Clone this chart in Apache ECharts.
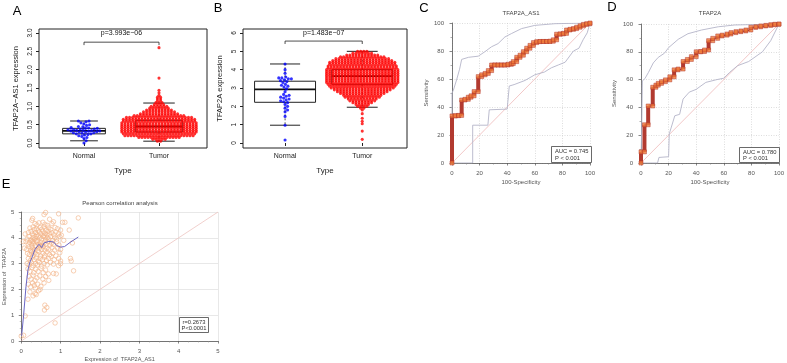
<!DOCTYPE html>
<html><head><meta charset="utf-8">
<script src="https://cdn.jsdelivr.net/npm/echarts@6/dist/echarts.min.js"></script>
<style>html,body{margin:0;padding:0;background:#fff}#c{width:787px;height:363px}</style>
</head><body><div id="c"></div>
<script>
// ---------------- DATA ----------------
const groupCats = ['Normal', 'Tumor'];

// Panel A: TFAP2A-AS1 expression
const aTicks = [0, 0.5, 1, 1.5, 2, 2.5, 3];
const aNormal = [0.0, 0.06, 0.12, 0.15, 0.18, 0.2, 0.22, 0.23, 0.25, 0.25, 0.27, 0.28, 0.28, 0.3, 0.3, 0.31, 0.32, 0.33, 0.33, 0.34, 0.35, 0.35, 0.36, 0.37, 0.38, 0.38, 0.4, 0.4, 0.41, 0.42, 0.44, 0.45, 0.48, 0.5, 0.52, 0.55, 0.58, 0.6, 0.6];
const aTumorLevels = [0.05, 0.1, 0.15, 0.2, 0.25, 0.3, 0.35, 0.4, 0.45, 0.5, 0.55, 0.6, 0.65, 0.7, 0.75, 0.8, 0.85, 0.9, 0.95, 1.0, 1.05, 1.1, 1.15, 1.2, 1.25, 1.3, 1.37, 1.44, 1.77, 2.6];
const aTumorCounts = [2, 5, 14, 23, 24, 25, 25, 25, 25, 25, 25, 24, 24, 22, 17, 13, 11, 9, 7, 6, 4, 3, 2, 2, 2, 1, 1, 1, 1, 1];
const aBoxNormal = [0.06, 0.25, 0.33, 0.40, 0.60];   // low whisker, Q1, median, Q3, high whisker
const aBoxTumor = [0.05, 0.30, 0.45, 0.62, 1.09];
const aBracket = [2.75, 2.67, 3.0];                  // bracket level, tick end, text level
const aPText = 'p=3.993e\u221206';

// Panel B: TFAP2A expression
const bTicks = [0, 1, 2, 3, 4, 5, 6];
const bNormal = [0.16, 0.97, 1.45, 1.7, 1.8, 1.9, 2.0, 2.1, 2.2, 2.25, 2.3, 2.35, 2.4, 2.45, 2.5, 2.55, 2.6, 2.65, 2.8, 2.95, 3.05, 3.1, 3.15, 3.2, 3.3, 3.35, 3.4, 3.45, 3.5, 3.5, 3.55, 3.55, 3.6, 3.8, 4.0, 4.31];
const bTumorLevels = [0.2, 0.65, 1.05, 1.18, 1.35, 1.6, 1.8, 1.9, 2.0, 2.1, 2.2, 2.3, 2.4, 2.5, 2.6, 2.7, 2.8, 2.9, 3.0, 3.1, 3.2, 3.3, 3.4, 3.5, 3.6, 3.7, 3.8, 3.9, 4.0, 4.1, 4.2, 4.3, 4.4, 4.5, 4.6, 4.7, 4.8, 4.9, 5.0];
const bTumorCounts = [1, 1, 1, 1, 1, 1, 1, 2, 4, 5, 7, 9, 10, 12, 13, 15, 17, 19, 21, 22, 23, 24, 24, 24, 24, 24, 24, 24, 24, 23, 23, 22, 22, 20, 18, 15, 11, 7, 4];
const bBoxNormal = [0.97, 2.22, 2.93, 3.37, 4.31];
const bBoxTumor = [1.95, 3.2, 3.65, 4.0, 5.0];
const bBracket = [5.56, 5.4, 6.0];
const bPText = 'p=1.483e\u221207';

// Panel C: ROC TFAP2A_AS1
const cFpr = [0, 2.4, 4.8, 7, 9.4, 11.8, 13.8, 16, 19, 21.5, 24, 26.3, 28.7, 31, 33.4, 35.8, 38.2, 40.6, 43, 44.4, 46.9, 49.3, 51.7, 54.1, 56.5, 59, 61.4, 63.8, 66.2, 68.6, 71, 73.4, 75.8, 78.3, 80.7, 83, 85.5, 88, 90.3, 92.8, 95.2, 97.6, 100];
const cTpr = [33.6, 33.8, 34, 45, 45.5, 47, 48, 51, 61.7, 63, 64, 66, 70, 70, 70, 70, 70, 70.5, 71, 72.4, 75.5, 77, 79.5, 82, 84, 86, 86.7, 86.8, 86.8, 86.8, 87, 88, 92, 92.2, 92.6, 95, 95.5, 96, 97, 98, 99, 99.5, 100];
const cUpper = [[0, 0], [0, 50], [1, 52], [3.5, 60], [5.5, 67], [7, 74], [12, 75.5], [19, 76.3], [23.7, 79.4], [28.6, 83], [33.4, 85.3], [38.3, 90], [43, 92.4], [50.4, 96], [60, 98.3], [74.6, 99.5], [100, 100]];
const cLower = [[0, 0], [15, 0], [15, 27], [26, 27], [27, 38], [40, 38.5], [41.5, 55], [45, 56], [53, 59], [60, 63], [67, 65], [72, 68], [77, 70], [82, 72], [88, 80], [92, 82], [95, 88], [98, 93], [100, 100]];
const cTitle = 'TFAP2A_AS1';
const cAuc = ['AUC = 0.745', 'P < 0.001'];

// Panel D: ROC TFAP2A
const dFpr = [0, 2.5, 5.2, 8.5, 10.8, 12.5, 14.9, 17.7, 20.9, 24, 26.9, 30.5, 33.6, 36.5, 40, 43.2, 46, 49, 52, 55.6, 58.8, 62.4, 65.2, 68.8, 72.4, 76, 79.6, 83.2, 86.8, 90.4, 94, 97, 100];
const dTpr = [8, 27.5, 41, 54.5, 56, 57.3, 58.5, 59.8, 62, 67, 67.6, 73, 74.5, 76.5, 80, 80.2, 81.3, 88, 89.7, 91.4, 92, 92.8, 93.8, 94.5, 95, 95.7, 97.6, 98, 98.6, 99, 99.5, 99.8, 100];
const dUpper = [[0, 0], [0.6, 30], [1, 59], [3, 61], [5.3, 65], [8.9, 72], [12.5, 76], [17, 79], [20, 83], [27, 89], [34, 93], [44, 95.7], [56, 98], [68, 99.3], [100, 100]];
const dLower = [[0, 0], [12, 0], [13, 4], [20, 4.5], [20.5, 21], [24.5, 34], [28, 35], [30.5, 46], [35, 51], [40, 53], [47, 58], [55, 60], [60, 61], [64, 65], [70, 70], [78, 73], [88, 80], [94, 88], [100, 100]];
const dTitle = 'TFAP2A';
const dAuc = ['AUC = 0.780', 'P < 0.001'];

// Panel E: Pearson correlation
const eTitle = 'Pearson correlation analysis';
const ePoints = [
 [0.62,4.98],[0.95,4.93],[0.58,4.9],
 [0.29,4.75],[0.27,4.68],[1.45,4.77],[0.72,4.72],
 [1.11,4.6],[1.05,4.6],[0.35,4.55],[0.45,4.58],[0.55,4.6],[0.6,4.52],[0.78,4.55],[0.82,4.62],[0.4,4.5],[0.66,4.48],
 [0.22,4.38],[0.3,4.42],[0.38,4.35],[0.48,4.4],[0.52,4.33],[0.58,4.42],[0.63,4.3],[0.7,4.38],[0.75,4.32],[0.86,4.4],[0.92,4.35],[1.0,4.3],[1.22,4.3],[0.43,4.3],[0.33,4.32],
 [0.18,4.2],[0.25,4.25],[0.28,4.15],[0.36,4.2],[0.4,4.12],[0.46,4.22],[0.5,4.15],[0.55,4.25],[0.6,4.18],[0.65,4.12],[0.68,4.25],[0.72,4.15],[0.78,4.2],[0.83,4.12],[0.88,4.22],[0.95,4.15],[1.02,4.1],[0.1,4.15],[0.32,4.1],[0.58,4.1],
 [0.15,3.95],[0.2,4.05],[0.24,3.92],[0.3,4.0],[0.34,3.95],[0.38,4.05],[0.42,3.9],[0.47,4.0],[0.52,3.95],[0.56,4.05],[0.62,3.92],[0.66,4.0],[0.7,3.95],[0.75,4.05],[0.8,3.9],[0.85,4.0],[0.9,3.95],[0.98,4.05],[1.08,3.9],[0.27,3.9],[0.44,4.08],[0.6,4.02],
 [0.05,3.85],[0.12,3.85],[0.18,3.75],[0.22,3.82],[0.26,3.72],[0.31,3.8],[0.35,3.7],[0.4,3.85],[0.45,3.75],[0.5,3.82],[0.54,3.72],[0.58,3.8],[0.63,3.75],[0.68,3.85],[0.73,3.72],[0.77,3.8],[0.82,3.75],[0.9,3.85],[0.96,3.72],[1.3,3.8],[0.37,3.88],[0.47,3.7],[0.29,3.86],
 [0.08,3.6],[0.14,3.55],[0.2,3.65],[0.24,3.52],[0.28,3.62],[0.33,3.55],[0.38,3.65],[0.42,3.5],[0.46,3.6],[0.52,3.55],[0.56,3.65],[0.6,3.52],[0.65,3.6],[0.7,3.55],[0.78,3.62],[0.85,3.52],[0.92,3.6],[1.0,3.55],[0.5,3.68],[0.3,3.5],
 [0.16,3.4],[0.21,3.35],[0.26,3.45],[0.3,3.32],[0.35,3.42],[0.4,3.35],[0.45,3.45],[0.49,3.3],[0.55,3.4],[0.6,3.32],[0.66,3.45],[0.72,3.35],[0.8,3.4],[0.88,3.3],[0.98,3.42],
 [0.18,3.2],[0.23,3.12],[0.28,3.25],[0.33,3.15],[0.38,3.22],[0.43,3.1],[0.48,3.2],[0.54,3.15],[0.59,3.25],[0.64,3.12],[0.7,3.2],[0.76,3.28],[0.84,3.15],[0.95,3.2],[1.0,3.1],[1.25,3.2],[1.27,3.1],
 [0.15,3.0],[0.2,2.95],[0.25,3.05],[0.3,2.92],[0.36,3.0],[0.41,2.95],[0.46,3.05],[0.52,2.9],[0.58,3.0],[0.66,2.95],[0.74,3.05],[0.82,2.98],[1.0,3.0],[0.95,2.92],
 [0.17,2.8],[0.22,2.7],[0.27,2.85],[0.32,2.65],[0.37,2.78],[0.43,2.7],[0.5,2.82],[0.56,2.65],[0.62,2.75],[0.69,2.6],[0.89,2.6],[0.82,2.62],[1.33,2.72],
 [0.2,2.5],[0.25,2.4],[0.3,2.55],[0.35,2.35],[0.4,2.45],[0.47,2.52],[0.55,2.4],[0.62,2.5],[0.7,2.35],
 [0.18,2.2],[0.24,2.1],[0.29,2.25],[0.36,2.05],[0.42,2.2],[0.5,2.12],[0.58,2.25],[0.48,2.0],[0.33,2.15],
 [0.22,1.9],[0.35,1.84],[0.38,1.8],[0.44,1.95],[0.3,1.75],
 [0.17,1.62],[0.6,1.39],[0.59,1.2],[0.65,1.3],[0.1,0.97],[0.86,0.7],[0.06,0.22],[0.0,0.19]
];
const eFit = [[0.01,0.2],[0.06,1.0],[0.12,2.1],[0.17,2.75],[0.22,3.05],[0.27,3.23],[0.35,3.55],[0.45,3.75],[0.52,3.62],[0.58,3.8],[0.7,3.86],[0.82,3.84],[0.9,3.7],[1.0,3.64],[1.1,3.66],[1.24,3.82],[1.45,4.03]];
const eDiag = [[0, 0], [5, 5]];
const eStats = ['r=0.2673', 'P<0.0001'];
const eXName = 'Expression of  TFAP2A_AS1';
const eYName = 'Expression of  TFAP2A';

// ---------------- LAYOUT / HELPERS ----------------
const FONT = '"Liberation Sans", Arial, Helvetica, sans-serif';
const gA = {left: 39, top: 29, width: 168, height: 119};
const gB = {left: 243, top: 29, width: 164, height: 119};
const gC = {left: 452, top: 23, width: 138, height: 140};
const gD = {left: 641, top: 24, width: 139, height: 139};
const gE = {left: 21, top: 212, width: 197, height: 131};
const axA = {xmin: 0.4, xmax: 2.64, ymin: -0.136, ymax: 3.109};
const axB = {xmin: 0.455, xmax: 2.58, ymin: -0.273, ymax: 6.218};
const DOT = 3.1;

function swarm(values, d, pxPerY) {
  const idx = values.map((v, i) => i).sort((a, b) => values[a] - values[b]);
  const placed = [], out = new Array(values.length);
  for (const i of idx) {
    const y = values[i] * pxPerY;
    const near = placed.filter(p => Math.abs(p.y - y) < d);
    const cands = [0];
    near.forEach(p => { const dx = Math.sqrt(d * d - (p.y - y) * (p.y - y)); cands.push(p.x + dx, p.x - dx); });
    cands.sort((a, b) => Math.abs(a) - Math.abs(b));
    let x = 0;
    for (const c of cands) {
      if (near.every(p => (p.x - c) * (p.x - c) + (p.y - y) * (p.y - y) >= d * d - 1e-6)) { x = c; break; }
    }
    placed.push({x, y}); out[i] = x;
  }
  return out;
}
function swarmData(values, center, g, ax) {
  const xpx = g.width / (ax.xmax - ax.xmin), ypx = g.height / (ax.ymax - ax.ymin);
  const off = swarm(values, DOT, ypx);
  return values.map((v, i) => [center + off[i] / xpx, v]);
}
function rowData(levels, counts, center, g, ax) {
  const xpx = g.width / (ax.xmax - ax.xmin);
  const pts = [];
  levels.forEach((v, k) => {
    const n = counts[k];
    for (let j = 0; j < n; j++) pts.push([center + (j - (n - 1) / 2) * DOT / xpx, v]);
  });
  return pts;
}
function boxSeries(idx, center, stats, bw, cw) {
  return {
    type: 'custom', xAxisIndex: idx, yAxisIndex: idx, z: 1, silent: true,
    data: [[center].concat(stats)],
    renderItem: function (params, api) {
      const c = api.value(0), lo = api.value(1), q1 = api.value(2), md = api.value(3), q3 = api.value(4), hi = api.value(5);
      const P = (x, y) => api.coord([x, y]);
      const tl = P(c - bw / 2, q3), br = P(c + bw / 2, q1);
      const mL = P(c - bw / 2, md), mR = P(c + bw / 2, md);
      const cx = P(c, 0)[0];
      const hiP = P(c - cw / 2, hi), hiR = P(c + cw / 2, hi);
      const loP = P(c - cw / 2, lo), loR = P(c + cw / 2, lo);
      const st = {stroke: '#222', lineWidth: 1, fill: null};
      return {type: 'group', children: [
        {type: 'rect', shape: {x: tl[0], y: tl[1], width: br[0] - tl[0], height: br[1] - tl[1]}, style: {stroke: '#222', lineWidth: 1, fill: 'none'}},
        {type: 'line', shape: {x1: mL[0], y1: mL[1], x2: mR[0], y2: mR[1]}, style: {stroke: '#111', lineWidth: 1.8}},
        {type: 'line', shape: {x1: cx, y1: tl[1], x2: cx, y2: hiP[1]}, style: {stroke: '#222', lineWidth: 0.8, lineDash: [2, 2]}},
        {type: 'line', shape: {x1: cx, y1: br[1], x2: cx, y2: loP[1]}, style: {stroke: '#222', lineWidth: 0.8, lineDash: [2, 2]}},
        {type: 'line', shape: {x1: hiP[0], y1: hiP[1], x2: hiR[0], y2: hiR[1]}, style: st},
        {type: 'line', shape: {x1: loP[0], y1: loP[1], x2: loR[0], y2: loR[1]}, style: st}
      ]};
    }
  };
}
function bracketSeries(idx, br, text) {
  return {
    type: 'custom', xAxisIndex: idx, yAxisIndex: idx, z: 3, silent: true,
    data: [[1, 2, br[0], br[1], br[2]]],
    renderItem: function (params, api) {
      const a = api.coord([api.value(0), api.value(2)]), b = api.coord([api.value(1), api.value(2)]);
      const a2 = api.coord([api.value(0), api.value(3)]), b2 = api.coord([api.value(1), api.value(3)]);
      const t = api.coord([(api.value(0) + api.value(1)) / 2, api.value(4)]);
      const st = {stroke: '#222', lineWidth: 0.8};
      return {type: 'group', children: [
        {type: 'line', shape: {x1: a[0], y1: a[1], x2: b[0], y2: b[1]}, style: st},
        {type: 'line', shape: {x1: a[0], y1: a[1], x2: a2[0], y2: a2[1]}, style: st},
        {type: 'line', shape: {x1: b[0], y1: b[1], x2: b2[0], y2: b2[1]}, style: st},
        {type: 'text', x: t[0], y: t[1], style: {text: text, fontSize: 7, fontFamily: FONT, fill: '#111', align: 'center', verticalAlign: 'middle'}}
      ]};
    }
  };
}
function rocSeries(idx, fpr, tpr, upper, lower) {
  const path = [], corners = [], bars = [];
  let prev = 0;
  fpr.forEach((x, k) => {
    path.push([x, prev]); path.push([x, tpr[k]]);
    bars.push([x, prev, tpr[k]]);
    corners.push([x, prev]); corners.push([x, tpr[k]]);
    prev = tpr[k];
  });
  return [
    {type: 'line', xAxisIndex: idx, yAxisIndex: idx, data: [[0, 0], [100, 100]], showSymbol: false, silent: true, z: 1,
     lineStyle: {color: '#efb9b9', width: 0.8}},
    {type: 'line', xAxisIndex: idx, yAxisIndex: idx, data: upper, showSymbol: false, silent: true, z: 1,
     lineStyle: {color: '#b4b4c8', width: 0.9}},
    {type: 'line', xAxisIndex: idx, yAxisIndex: idx, data: lower, showSymbol: false, silent: true, z: 1,
     lineStyle: {color: '#b4b4c8', width: 0.9}},
    {type: 'line', xAxisIndex: idx, yAxisIndex: idx, data: path, showSymbol: false, silent: true, z: 2,
     lineStyle: {color: '#a8322c', width: 1}},
    {type: 'custom', xAxisIndex: idx, yAxisIndex: idx, data: bars, silent: true, z: 3,
     renderItem: function (params, api) {
       const a = api.coord([api.value(0), api.value(1)]), b = api.coord([api.value(0), api.value(2)]);
       return {type: 'rect', shape: {x: a[0] - 2, y: b[1], width: 4, height: a[1] - b[1]}, style: {fill: '#b23a30'}};
     }},
    {type: 'scatter', xAxisIndex: idx, yAxisIndex: idx, data: corners, symbol: 'rect', symbolSize: 4, silent: true, z: 4,
     itemStyle: {color: '#ef7a3a', borderColor: '#b0342c', borderWidth: 0.6}}
  ];
}
function abAxes(idx, ax, ticks, yName, dec) {
  return {
    x: {type: 'value', gridIndex: idx, min: ax.xmin, max: ax.xmax,
        axisLine: {show: false}, splitLine: {show: false},
        axisTick: {show: true, customValues: [1, 2], length: 3, lineStyle: {color: '#222'}},
        axisLabel: {customValues: [1, 2], formatter: v => groupCats[Math.round(v) - 1], fontSize: 7, color: '#222', margin: 5, fontFamily: FONT},
        name: 'Type', nameLocation: 'middle', nameGap: 19, nameTextStyle: {fontSize: 8, color: '#222', fontFamily: FONT}},
    y: {type: 'value', gridIndex: idx, min: ax.ymin, max: ax.ymax,
        axisLine: {show: false}, splitLine: {show: false},
        axisTick: {show: true, customValues: ticks, length: 3, lineStyle: {color: '#222'}},
        axisLabel: {customValues: ticks, formatter: v => v.toFixed(dec), rotate: 90, fontSize: 6.5, color: '#222', margin: 5, fontFamily: FONT},
        name: yName, nameLocation: 'middle', nameGap: 19, nameTextStyle: {fontSize: 7.5, color: '#222', fontFamily: FONT}}
  };
}
function rocAxes(idx, nameGapY) {
  const common = {type: 'value', gridIndex: idx, min: 0, max: 100, interval: 20,
    axisLine: {show: true, lineStyle: {color: '#555', width: 0.8}},
    axisTick: {show: true, length: 2.5, lineStyle: {color: '#555', width: 0.7}},
    minorTick: {show: true, splitNumber: 2, length: 1.5, lineStyle: {color: '#777', width: 0.6}},
    axisLabel: {fontSize: 6, color: '#555', margin: 3, fontFamily: FONT},
    splitLine: {show: true, lineStyle: {color: '#cfcfcf', width: 0.7, type: [1, 1.5]}}};
  return {
    x: Object.assign({}, common, {offset: 4, name: '100-Specificity', nameLocation: 'middle', nameGap: 12, nameTextStyle: {fontSize: 6, color: '#555', fontFamily: FONT}}),
    y: Object.assign({}, common, {offset: 5, name: 'Sensitivity', nameLocation: 'middle', nameGap: nameGapY, nameTextStyle: {fontSize: 6, color: '#555', fontFamily: FONT}})
  };
}
function T(x, y, text, size, extra) {
  return {type: 'text', x: x, y: y, silent: true, z: 100,
    style: Object.assign({text: text, fontSize: size, fontFamily: FONT, fill: '#000', align: 'center', verticalAlign: 'middle'}, extra || {})};
}
function R(x, y, w, h) {
  return {type: 'rect', silent: true, z: 99, shape: {x: x, y: y, width: w, height: h}, style: {fill: '#fff', stroke: '#444', lineWidth: 0.8}};
}

// ---------------- BUILD ----------------
const A = abAxes(0, axA, aTicks, 'TFAP2A\u2212AS1 expression', 1);
const B = abAxes(1, axB, bTicks, 'TFAP2A expression', 0);
const C = rocAxes(2, 18);
const D = rocAxes(3, 19);
const eCommon = {type: 'value', min: 0, max: 5, interval: 1,
  axisLine: {show: true, lineStyle: {color: '#555', width: 0.8}},
  axisTick: {show: true, length: 2.5, lineStyle: {color: '#555', width: 0.7}},
  minorTick: {show: true, splitNumber: 4, length: 1.5, lineStyle: {color: '#888', width: 0.5}},
  axisLabel: {fontSize: 6, color: '#555', margin: 3, fontFamily: FONT},
  splitLine: {show: true, lineStyle: {color: '#dedede', width: 0.7}}};
const Ex = Object.assign({}, eCommon, {gridIndex: 4, offset: 4, name: eXName, nameLocation: 'middle', nameGap: 11, nameTextStyle: {fontSize: 5.5, color: '#555', fontFamily: FONT}});
const Ey = Object.assign({}, eCommon, {gridIndex: 4, offset: 4, name: eYName, nameLocation: 'middle', nameGap: 9, nameTextStyle: {fontSize: 5.5, color: '#555', fontFamily: FONT}});

const option = {
  animation: false,
  backgroundColor: '#fff',
  grid: [
    Object.assign({show: true, borderColor: '#222', borderWidth: 1, backgroundColor: 'transparent'}, gA),
    Object.assign({show: true, borderColor: '#222', borderWidth: 1, backgroundColor: 'transparent'}, gB),
    gC, gD, gE
  ],
  xAxis: [A.x, B.x, C.x, D.x, Ex],
  yAxis: [A.y, B.y, C.y, D.y, Ey],
  series: [
    boxSeries(0, 1, aBoxNormal, 0.57, 0.37),
    boxSeries(0, 2, aBoxTumor, 0.62, 0.42),
    {type: 'scatter', xAxisIndex: 0, yAxisIndex: 0, data: swarmData(aNormal, 1, gA, axA), symbolSize: DOT, itemStyle: {color: '#0000ff'}, silent: true, z: 2},
    {type: 'scatter', xAxisIndex: 0, yAxisIndex: 0, data: rowData(aTumorLevels, aTumorCounts, 2, gA, axA), symbolSize: DOT, itemStyle: {color: '#ff0000'}, silent: true, z: 2, large: false},
    bracketSeries(0, aBracket, aPText),
    boxSeries(1, 1, bBoxNormal, 0.79, 0.39),
    boxSeries(1, 2, bBoxTumor, 0.79, 0.40),
    {type: 'scatter', xAxisIndex: 1, yAxisIndex: 1, data: swarmData(bNormal, 1, gB, axB), symbolSize: DOT, itemStyle: {color: '#0000ff'}, silent: true, z: 2},
    {type: 'scatter', xAxisIndex: 1, yAxisIndex: 1, data: rowData(bTumorLevels, bTumorCounts, 2, gB, axB), symbolSize: DOT, itemStyle: {color: '#ff0000'}, silent: true, z: 2},
    bracketSeries(1, bBracket, bPText),
    ...rocSeries(2, cFpr, cTpr, cUpper, cLower),
    ...rocSeries(3, dFpr, dTpr, dUpper, dLower),
    {type: 'line', xAxisIndex: 4, yAxisIndex: 4, data: eDiag, showSymbol: false, silent: true, z: 1, lineStyle: {color: '#eec4c0', width: 0.8}},
    {type: 'scatter', xAxisIndex: 4, yAxisIndex: 4, data: ePoints, symbol: 'circle', symbolSize: 4.5, silent: true, z: 2,
     itemStyle: {color: 'rgba(255,255,255,0)', borderColor: '#f2b487', borderWidth: 0.8}},
    {type: 'line', xAxisIndex: 4, yAxisIndex: 4, data: eFit, showSymbol: false, silent: true, z: 3, lineStyle: {color: '#6a66c4', width: 1}}
  ],
  graphic: [
    T(17, 11, 'A', 13), T(218, 8, 'B', 13), T(424, 8, 'C', 13), T(612, 7, 'D', 13), T(6, 184, 'E', 13),
    T(521, 13, cTitle, 6, {fill: '#444'}), T(710, 13, dTitle, 6, {fill: '#444'}), T(120, 203, eTitle, 6, {fill: '#444'}),
    R(551.5, 146.5, 40, 16), T(555, 151, cAuc[0], 5.8, {align: 'left', fill: '#333'}), T(555, 158, cAuc[1], 5.8, {align: 'left', fill: '#333'}),
    R(739.5, 147.5, 40, 15), T(743, 152, dAuc[0], 5.8, {align: 'left', fill: '#333'}), T(743, 158.5, dAuc[1], 5.8, {align: 'left', fill: '#333'}),
    R(179.5, 317.5, 29, 15), T(194, 322, eStats[0], 5.8, {fill: '#333'}), T(194, 328.5, eStats[1], 5.8, {fill: '#333'})
  ]
};
const chart = echarts.init(document.getElementById('c'), null, {renderer: 'canvas'});
chart.setOption(option);
</script>
</body></html>
